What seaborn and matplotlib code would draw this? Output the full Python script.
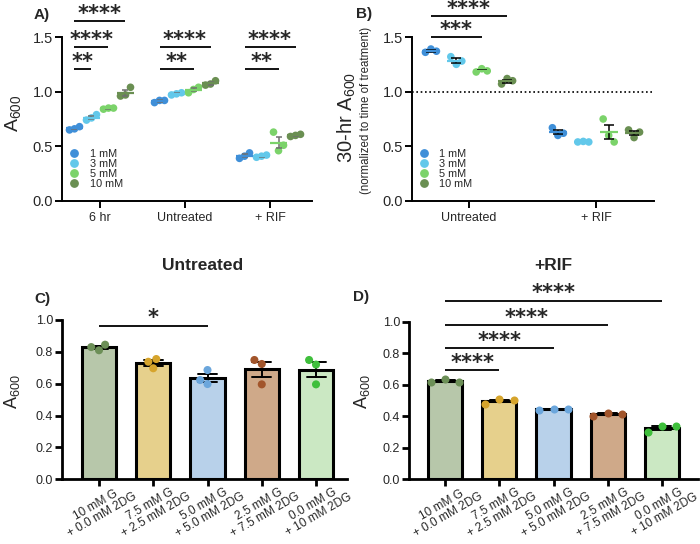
import numpy as np
import pandas as pd
import matplotlib
matplotlib.use("Agg")
import matplotlib.pyplot as plt
from matplotlib.lines import Line2D
import seaborn as sns

# ---------------- data ----------------
groups_A = ["6 hr", "Untreated", "+ RIF"]
groups_B = ["Untreated", "+ RIF"]
conc = ["1 mM", "3 mM", "5 mM", "10 mM"]

# panel A replicates, per concentration (1, 3, 5, 10 mM)
A_6hr = [[0.65, 0.66, 0.68], [0.74, 0.76, 0.79], [0.84, 0.85, 0.85], [0.96, 0.97, 1.04]]
A_untreated = [[0.90, 0.92, 0.92], [0.97, 0.98, 0.99], [0.99, 1.02, 1.04], [1.06, 1.07, 1.10]]
A_rif = [[0.39, 0.41, 0.44], [0.40, 0.41, 0.42], [0.63, 0.46, 0.51], [0.59, 0.60, 0.61]]

# panel B replicates
B_untreated = [[1.36, 1.39, 1.37], [1.32, 1.25, 1.28], [1.18, 1.21, 1.19], [1.07, 1.12, 1.10]]
B_rif = [[0.67, 0.60, 0.62], [0.54, 0.545, 0.54], [0.75, 0.60, 0.54], [0.65, 0.58, 0.63]]

# panels C / D
cond_labels = ["10 mM G\n+ 0.0 mM 2DG", "7.5 mM G\n+ 2.5 mM 2DG", "5.0 mM G\n+ 5.0 mM 2DG",
               "2.5 mM G\n+ 7.5 mM 2DG", "0.0 mM G\n+ 10 mM 2DG"]
C_vals = [[0.81, 0.845, 0.83], [0.755, 0.697, 0.738], [0.598, 0.686, 0.623],
          [0.749, 0.596, 0.724], [0.749, 0.596, 0.72]]
D_vals = [[0.615, 0.636, 0.62], [0.48, 0.507, 0.503], [0.44, 0.445, 0.445],
          [0.404, 0.42, 0.415], [0.302, 0.34, 0.34]]

# significance: (group index, from conc idx, to conc idx, y, label)
sig_A = [(0, 0, 1, 1.208, "**"), (0, 0, 2, 1.409, "****"), (0, 0, 3, 1.647, "****"),
         (1, 0, 3, 1.409, "****"), (1, 0, 2, 1.208, "**"),
         (2, 0, 3, 1.409, "****"), (2, 0, 2, 1.208, "**")]
sig_B = [(0, 0, 2, 1.5, "***"), (0, 0, 3, 1.693, "****")]
sig_C = [(0, 2, 0.964, "*")]
sig_D = [(0, 1, 0.694, "****"), (0, 2, 0.831, "****"), (0, 3, 0.979, "****"), (0, 4, 1.133, "****")]

conc_colors = ["#3f8fd8", "#62c8ea", "#7bd36a", "#6a8f52"]
bar_faces = ["#b7c7aa", "#e6d08c", "#b8d1ea", "#cfa989", "#cbe8c3"]
dot_colors = ["#6c8f57", "#d6a42c", "#6ba6dc", "#a2552b", "#3fbf3c"]

# ---------------- style ----------------
sns.set_theme(style="ticks")
plt.rcParams['font.family'] = ['Liberation Sans', 'DejaVu Sans']
plt.rcParams['mathtext.default'] = 'regular'

W, H = 700, 544
fig = plt.figure(figsize=(7, 5.44), dpi=100)


def ax_px(l, t, r, b):
    return fig.add_axes([l / W, 1 - b / H, (r - l) / W, (b - t) / H])


def long_df(groups, blocks, rep_step):
    rows = []
    for gi, (g, block) in enumerate(zip(groups, blocks)):
        for ci, (c, vals) in enumerate(zip(conc, block)):
            for k, v in enumerate(vals):
                xpos = gi + (ci - 1.5) * 0.2 + (k - 1) * rep_step
                rows.append((g, c, k, v, xpos))
    return pd.DataFrame(rows, columns=["group", "conc", "rep", "value", "xpos"])


def style_axis(ax, lw, ylab_size, xlab_size):
    sns.despine(ax=ax)
    for s in ("left", "bottom"):
        ax.spines[s].set_linewidth(lw)
        ax.spines[s].set_color("black")
    ax.tick_params(axis="both", which="major", length=5, width=lw, color="black", direction="out")
    ax.tick_params(axis="y", labelsize=ylab_size, pad=1.5)
    ax.tick_params(axis="x", labelsize=xlab_size, pad=3)
    ax.set_xlabel("")
    ax.set_ylabel("")


def stars(ax, x1, x2, y, text, lw=1.3):
    ax.plot([x1, x2], [y, y], color="black", lw=lw, clip_on=False, solid_capstyle="butt")
    ax.annotate(text, xy=((x1 + x2) / 2, y), xytext=(0, 1.0), textcoords="offset points",
                ha="center", va="baseline", fontsize=15, fontweight="bold",
                family="DejaVu Sans", annotation_clip=False)


def scatter_panel(ax, df, groups, hw, ecolor, capsize):
    sns.scatterplot(data=df, x="xpos", y="value", hue="conc", hue_order=conc,
                    palette=conc_colors, s=30, edgecolor="none", linewidth=0,
                    legend=False, ax=ax, zorder=2)
    for gi, g in enumerate(groups):
        for ci, c in enumerate(conc):
            v = df[(df.group == g) & (df.conc == c)]["value"].to_numpy()
            m = v.mean()
            se = v.std(ddof=1) / np.sqrt(len(v))
            x = gi + (ci - 1.5) * 0.2
            ax.errorbar(x, m, yerr=se, color=ecolor, capsize=capsize, lw=1.1, capthick=1.1, zorder=3)
            ax.hlines(m, x - hw, x + hw, color=conc_colors[ci], lw=1.6, zorder=4)
    ax.set_xticks(range(len(groups)))
    ax.set_xticklabels(groups)
    handles = [Line2D([], [], marker="o", ls="", color=c, markersize=5.3) for c in conc_colors]
    ax.legend(handles, conc, loc="upper left", bbox_to_anchor=(0.028, 0.317), frameon=False,
              fontsize=7.8, labelspacing=0.0, handletextpad=0.9, handlelength=1.0,
              borderpad=0, borderaxespad=0)


# ---------------- panel A ----------------
axA = ax_px(62, 37, 312, 201)
dfA = long_df(groups_A, [A_6hr, A_untreated, A_rif], 5.0 / 85)
scatter_panel(axA, dfA, groups_A, 0.1, "#6f6f6f", 2)
axA.set_ylim(0, 1.5)
axA.set_yticks([0, 0.5, 1.0, 1.5])
axA.set_yticklabels(["0.0", "0.5", "1.0", "1.5"])
axA.set_xlim(-0.447, 2.494)
style_axis(axA, 1.4, 10.5, 9)
for gi, c1, c2, y, t in sig_A:
    stars(axA, gi + (c1 - 1.5) * 0.2, gi + (c2 - 1.5) * 0.2, y, t)

# ---------------- panel B ----------------
axB = ax_px(412, 37, 654, 201)
dfB = long_df(groups_B, [B_untreated, B_rif], 5.5 / 127)
axB.axhline(1.0, color="black", lw=1.2, ls=(0, (1, 1.6)), zorder=1)
scatter_panel(axB, dfB, groups_B, 0.07, "black", 3.5)
axB.set_ylim(0, 1.5)
axB.set_yticks([0, 0.5, 1.0, 1.5])
axB.set_yticklabels(["0.0", "0.5", "1.0", "1.5"])
axB.set_xlim(-0.449, 1.457)
style_axis(axB, 1.4, 10.5, 9)
for gi, c1, c2, y, t in sig_B:
    stars(axB, gi + (c1 - 1.5) * 0.2, gi + (c2 - 1.5) * 0.2, y, t)


# ---------------- panels C / D ----------------
def bar_df(vals):
    rows = []
    for c, vs in zip(cond_labels, vals):
        for k, v in enumerate(vs):
            rows.append((c, "r%d" % k, v))
    return pd.DataFrame(rows, columns=["cond", "rep", "value"])


def bar_panel(ax, df, swarm):
    sns.barplot(data=df, x="cond", y="value", hue="cond", order=cond_labels, hue_order=cond_labels,
                palette=bar_faces, legend=False, errorbar="se", capsize=0.35,
                err_kws={"color": "black", "linewidth": 1.4}, width=0.63,
                edgecolor="black", linewidth=2.2, saturation=1, ax=ax)
    if swarm:
        sns.swarmplot(data=df, x="cond", y="value", hue="cond", order=cond_labels,
                      hue_order=cond_labels, palette=dot_colors, size=5.8, legend=False, ax=ax, zorder=5)
    else:
        for i, c in enumerate(cond_labels):
            sub = df[df.cond == c]
            sns.stripplot(data=sub, x="cond", y="value", hue="rep", order=cond_labels,
                          hue_order=["r0", "r1", "r2"], palette=[dot_colors[i]] * 3, dodge=True,
                          jitter=False, size=5.8, legend=False, ax=ax, zorder=5)
    ax.set_ylim(0, 1.0)
    ax.set_yticks(np.arange(0, 1.01, 0.2))
    ax.set_yticklabels(["0.0", "0.2", "0.4", "0.6", "0.8", "1.0"])
    style_axis(ax, 2.0, 9, 8.6)
    ax.set_xticks(range(len(cond_labels)))
    ax.set_xticklabels(cond_labels, rotation=30, ha="center", va="center", rotation_mode="anchor",
                       multialignment="center", fontsize=8.6, linespacing=1.0)
    ax.tick_params(axis="x", pad=17)


axC = ax_px(62, 320, 347, 479.3)
bar_panel(axC, bar_df(C_vals), swarm=True)
axC.set_xlim(-0.682, 4.571)
for a, b, y, t in sig_C:
    stars(axC, a, b, y, t)

axD = ax_px(409, 321.7, 698, 479.3)
bar_panel(axD, bar_df(D_vals), swarm=False)
axD.set_xlim(-0.664, 4.664)
for a, b, y, t in sig_D:
    stars(axD, a, b, y, t)

# ---------------- labels ----------------
def ftext(x, y, s, **kw):
    fig.text(x / W, 1 - y / H, s, **kw)


ftext(13, 113, "A$_{600}$", rotation=90, ha="center", va="center", fontsize=14)
ftext(347, 117, "30-hr A$_{600}$", rotation=90, ha="center", va="center", fontsize=14.5)
ftext(366, 110, "(normalized to time of treatment)", rotation=90, ha="center", va="center", fontsize=8.3)
ftext(12, 392, "A$_{600}$", rotation=90, ha="center", va="center", fontsize=13)
ftext(362, 392, "A$_{600}$", rotation=90, ha="center", va="center", fontsize=13)

ftext(42, 15, "A)", ha="center", va="center", fontsize=11, fontweight="bold")
ftext(364, 14, "B)", ha="center", va="center", fontsize=11, fontweight="bold")
ftext(42, 299, "C)", ha="center", va="center", fontsize=11, fontweight="bold")
ftext(361, 297, "D)", ha="center", va="center", fontsize=11, fontweight="bold")

ftext(203, 266, "Untreated", ha="center", va="center", fontsize=12.5, fontweight="bold")
ftext(553, 266, "+RIF", ha="center", va="center", fontsize=12.5, fontweight="bold")

fig.savefig("out.png", dpi=100)
